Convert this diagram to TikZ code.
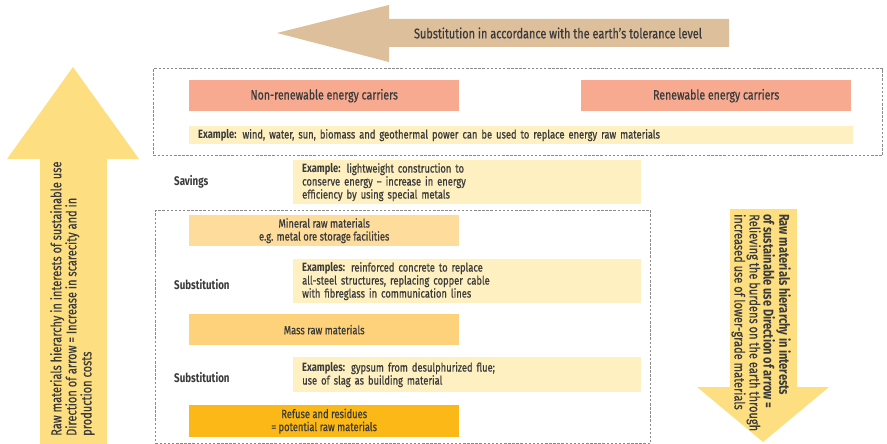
\documentclass[tikz,border=0pt]{standalone}
\usepackage{fontspec}
\setmainfont{Fira Sans}[FakeStretch=0.78, FakeBold=0.5, BoldFeatures={FakeBold=0}]
\usepackage{tikz}
\usetikzlibrary{
	positioning,
	calc
}
\definecolor{HierSalmon}{HTML}{F7AA8F}
\definecolor{HierPale}{HTML}{FEF0C1}
\definecolor{HierMineral}{HTML}{FDDC9C}
\definecolor{HierMass}{HTML}{FDD27B}
\definecolor{HierRefuse}{HTML}{FBB817}
\definecolor{HierArrow}{HTML}{FDDF82}
\definecolor{HierTan}{HTML}{DEBF9C}
\definecolor{HierText}{HTML}{3A3A3A}
\definecolor{HierDots}{HTML}{8A8A8A}

\begin{document}
\begin{tikzpicture}[
	x=1pt,
	y=-1pt,
	every node/.style={
		text=HierText,
		font=\fontsize{12}{13}\selectfont
	},
	framebox/.style={
		draw=HierDots,
		line width=1.1pt,
		dash pattern=on 2.5pt off 1.6pt,
		anchor=north west,
		inner sep=0pt
	},
	matbox/.style={
		anchor=north west,
		minimum width=270pt,
		minimum height=31pt,
		inner sep=0pt,
		align=center
	},
	examplebox/.style={
		fill=HierPale,
		anchor=north west,
		minimum width=348pt,
		inner sep=0pt,
		inner xsep=9pt,
		text width=330pt,
		align=left
	},
	sidelabel/.style={
		anchor=west,
		inner sep=0pt,
		font=\fontsize{12.5}{13}\selectfont\bfseries
	},
	arrowtext/.style={
		inner sep=0pt,
		align=left,
		font=\fontsize{14.2}{14}\selectfont
	}
	]
	
	\useasboundingbox (0,0) rectangle (887,444);
	
	% big arrows
	\fill[HierTan]
	(277,33) -- (389,5) -- (389,19) -- (729,19) -- (729,47) -- (389,47) -- (389,62) -- cycle;
	\node[
	arrowtext,
	font=\fontsize{14}{15}\selectfont
	]
	(tolerance)
	at (558,33)
	{Substitution in accordance with the earth’s tolerance level};
	
	\fill[HierArrow]
	(73,67) -- (139,159) -- (107,159) -- (107,444) -- (40,444) -- (40,159) -- (7,159) -- cycle;
	\node[
	arrowtext,
	rotate=90,
	anchor=north west
	]
	(scarcity)
	at (50,436)
	{Raw materials hierarchy in interests of sustainable use\\
		Direction of arrow = Increase in scarecity and in\\
		production costs};
	
	\fill[HierArrow]
	(730,209) -- (797,209) -- (797,387) -- (829,387) -- (763,442) -- (697,387) -- (730,387) -- cycle;
	\node[
	arrowtext,
	rotate=-90,
	anchor=north west
	]
	(burdens)
	at (791,214)
	{\textbf{Raw materials hierarchy in interests}\\
		\textbf{of sustainable use Direction of arrow =}\\
		Relieving the burdens on the earth through\\
		increased use of lower-grade materials};
	
	% energy carriers
	\node[
	framebox,
	minimum width=729pt,
	minimum height=87pt
	]
	(energy)
	at (153,68)
	{};
	
	\node[
	matbox,
	fill=HierSalmon,
	font=\fontsize{13.5}{15}\selectfont
	]
	(NR)
	at (189,80)
	{Non-renewable energy carriers};
	
	\node[
	matbox,
	fill=HierSalmon,
	font=\fontsize{13.5}{15}\selectfont
	]
	(R)
	at (581,80)
	{Renewable energy carriers};
	
	\node[
	examplebox,
	minimum width=664pt,
	text width=646pt,
	minimum height=18pt
	]
	(EX1)
	at (189,126)
	{\textbf{Example:} wind, water, sun, biomass and geothermal power can be used to replace energy raw materials};
	
	% savings
	\node[
	sidelabel
	]
	(S)
	at (174,182)
	{Savings};
	
	\node[
	examplebox,
	minimum width=347pt,
	minimum height=44pt
	]
	(EX2)
	at (293,160)
	{\textbf{Example:} lightweight construction to\\
		conserve energy – increase in energy\\
		efficiency by using special metals};
	
	% material substitution
	\node[
	framebox,
	minimum width=495pt,
	minimum height=233pt
	]
	(material)
	at (155,210)
	{};
	
	\node[
	matbox,
	fill=HierMineral
	]
	(MI)
	at (189,215)
	{Mineral raw materials\\
		e.g. metal ore storage facilities};
	
	\node[
	sidelabel
	]
	(SU1)
	at (174,285)
	{Substitution};
	
	\node[
	examplebox,
	minimum height=44pt
	]
	(EX3)
	at (293,259)
	{\textbf{Examples:} reinforced concrete to replace\\
		all-steel structures, replacing copper cable\\
		with fibreglass in communication lines};
	
	\node[
	matbox,
	fill=HierMass
	]
	(MA)
	at (189,314)
	{Mass raw materials};
	
	\node[
	sidelabel
	]
	(SU2)
	at (174,378)
	{Substitution};
	
	\node[
	examplebox,
	minimum height=35pt
	]
	(EX4)
	at (293,357)
	{\textbf{Examples:} gypsum from desulphurized flue;\\
		use of slag as building material};
	
	\node[
	matbox,
	fill=HierRefuse,
	minimum height=32pt
	]
	(RE)
	at (189,405)
	{Refuse and residues\\
		= potential raw materials};
	
\end{tikzpicture}
\end{document}
